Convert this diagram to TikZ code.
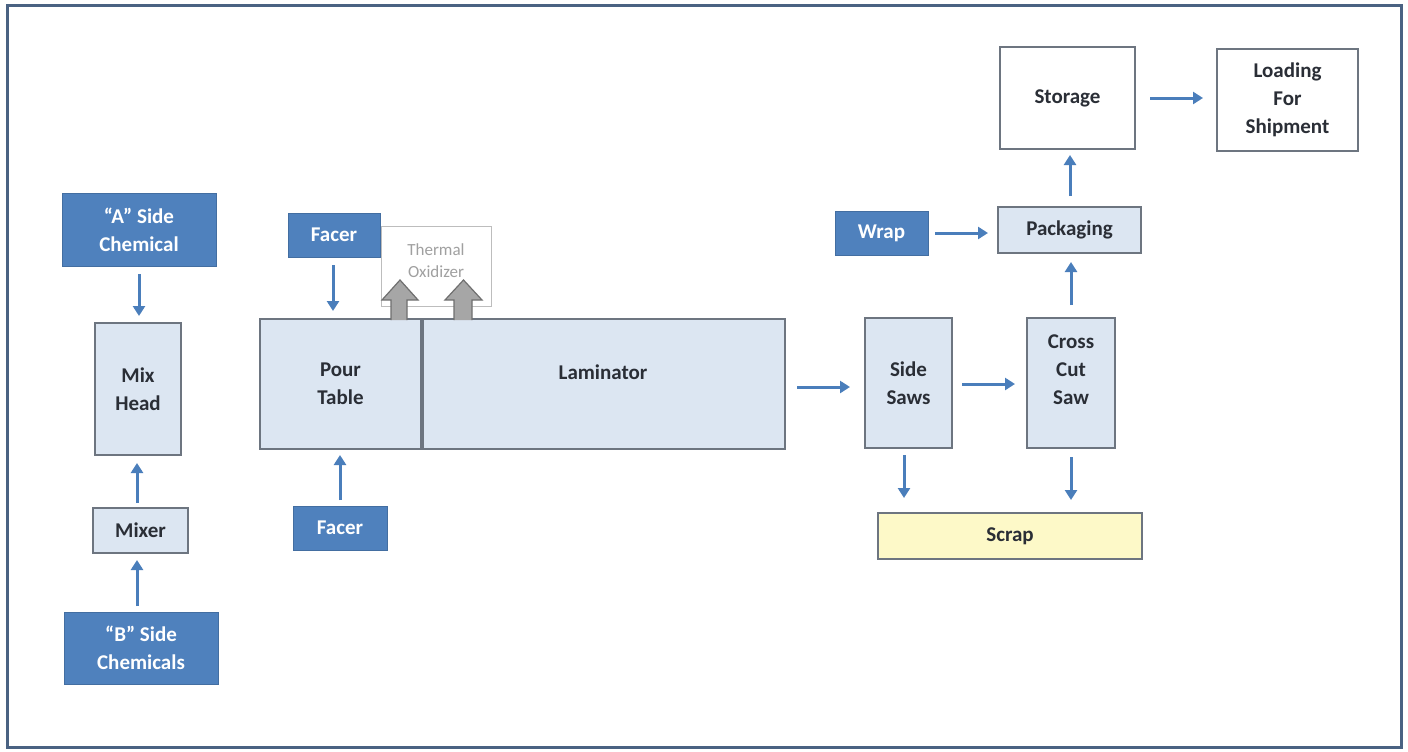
\documentclass[tikz,border=0pt]{standalone}
\usepackage{fontspec}
\setmainfont{Carlito}
\usetikzlibrary{arrows.meta,calc}
\definecolor{dkblue}{HTML}{4F81BD}
\definecolor{ltblue}{HTML}{DCE6F2}
\definecolor{edgegray}{HTML}{6D7580}
\definecolor{arrblue}{HTML}{4A7EBB}
\definecolor{scrapy}{HTML}{FDF9C8}
\definecolor{framec}{HTML}{4A6282}
\definecolor{txtdark}{HTML}{2A2E36}
\definecolor{oxgray}{HTML}{A0A0A0}
\definecolor{garrow}{HTML}{A6A6A6}
\definecolor{garrowe}{HTML}{6F6F6F}
\begin{document}
\begin{tikzpicture}[x=1pt,y=-1pt,
  every node/.style={inner sep=0pt,outer sep=0pt,align=center},
  darkbox/.style={rectangle,fill=dkblue,draw=dkblue!85!black,line width=0.8pt,text=white,font=\fontsize{21}{28}\selectfont\bfseries},
  lightbox/.style={rectangle,fill=ltblue,draw=edgegray,line width=1.6pt,text=txtdark,font=\fontsize{21}{28}\selectfont\bfseries},
  whitebox/.style={rectangle,fill=white,draw=edgegray,line width=1.6pt,text=txtdark,font=\fontsize{21}{28}\selectfont\bfseries},
  scrapbox/.style={rectangle,fill=scrapy,draw=edgegray,line width=1.6pt,text=txtdark,font=\fontsize{21}{28}\selectfont\bfseries},
  flow/.style={draw=arrblue,line width=3pt,-{Triangle[width=12pt,length=10pt]}},
  gblock/.style={fill=garrow,draw=garrowe,line width=1.2pt}
]
\useasboundingbox (0,0) rectangle (1408,752);
\fill[white] (0,0) rectangle (1408,752);
\draw[framec,line width=3pt] (7,6) rectangle (1401,747);

% left column
\node[darkbox,minimum width=154,minimum height=73] (A) at (139,229.5) {``A'' Side\\Chemical};
\node[lightbox,minimum width=86,minimum height=132] (MH) at (138,389) {Mix\\Head};
\node[lightbox,minimum width=95,minimum height=45] (MX) at (140.5,530.5) {Mixer};
\node[darkbox,minimum width=154,minimum height=72] (B) at (141,648) {``B'' Side\\Chemicals};

% facers, pour table, laminator
\node[darkbox,minimum width=92,minimum height=44] (F1) at (334,235) {Facer};
\node[rectangle,draw=oxgray!70,fill=white,line width=0.8pt,minimum width=110,minimum height=80] (TO) at (436,266) {};
\node[text=oxgray,font=\fontsize{17}{22}\selectfont] (TOt) at (436,261) {Thermal\\Oxidizer};
\node[lightbox,minimum width=161,minimum height=130] (PT) at (340.5,384) {Pour\\Table};
\node[lightbox,minimum width=362,minimum height=130,anchor=north west] (LM) at (423,319) {};
\node[text=txtdark,font=\fontsize{21}{28}\selectfont\bfseries] (LMt) at (603,372) {Laminator};
\node[darkbox,minimum width=94,minimum height=44] (F2) at (340,528) {Facer};

% gray exhaust arrows
\draw[gblock] (391,320) -- (391,300) -- (382,300) -- (400,280) -- (418,300) -- (407,300) -- (407,320);
\draw[gblock] (454,320) -- (454,300) -- (445,300) -- (463.5,280) -- (482,300) -- (472,300) -- (472,320);

% saws, scrap
\node[lightbox,minimum width=87,minimum height=130] (SS) at (908.5,383) {Side\\Saws};
\node[lightbox,minimum width=88,minimum height=130] (CC) at (1071,383) {};
\node[text=txtdark,font=\fontsize{21}{28}\selectfont\bfseries] (CCt) at (1071,370) {Cross\\Cut\\Saw};
\node[scrapbox,minimum width=264,minimum height=46] (SC) at (1010,536) {Scrap};

% packaging, storage, loading
\node[darkbox,minimum width=93,minimum height=44] (W) at (881.5,233) {Wrap};
\node[lightbox,minimum width=143,minimum height=46] (PK) at (1069.5,230) {Packaging};
\node[whitebox,minimum width=135,minimum height=102] (ST) at (1067.5,98) {Storage};
\node[whitebox,minimum width=141,minimum height=102] (LD) at (1287.5,100) {Loading\\For\\Shipment};

% connectors
\draw[flow,shorten <=8pt,shorten >=7pt] (A.south) -- (A.south |- MH.north);
\draw[flow,shorten <=5pt,shorten >=8pt] ([xshift=-3.5pt]MX.north) -- ([xshift=-3.5pt]MX.north |- MH.south);
\draw[flow,shorten <=6pt,shorten >=7pt] ([xshift=-4pt]B.north) -- ([xshift=-4pt]B.north |- MX.south);
\draw[flow,shorten <=8pt,shorten >=8pt] ([xshift=-1pt]F1.south) -- ([xshift=-1pt]F1.south |- PT.north);
\draw[flow,shorten <=6pt,shorten >=6pt] (F2.north) -- (F2.north |- PT.south);
\draw[flow,shorten <=12pt,shorten >=15pt] ([yshift=-3pt]LM.east) -- ([yshift=-3pt]LM.east -| SS.west);
\draw[flow,shorten <=10pt,shorten >=12pt] ([yshift=-1pt]SS.east) -- ([yshift=-1pt]SS.east -| CC.west);
\draw[flow,shorten <=7pt,shorten >=15pt] ([xshift=-4.5pt]SS.south) -- ([xshift=-4.5pt]SS.south |- SC.north);
\draw[flow,shorten <=9pt,shorten >=13pt] (CC.south) -- (CC.south |- SC.north);
\draw[flow,shorten <=13pt,shorten >=9pt] (CC.north) -- (CC.north |- PK.south);
\draw[flow,shorten <=7pt,shorten >=10pt] (W.east) -- (W.east -| PK.west);
\draw[flow,shorten <=11pt,shorten >=6pt] ([xshift=0.5pt]PK.north) -- ([xshift=0.5pt]PK.north |- ST.south);
\draw[flow,shorten <=15pt,shorten >=14pt] (ST.east) -- (ST.east -| LD.west);
\end{tikzpicture}
\end{document}
